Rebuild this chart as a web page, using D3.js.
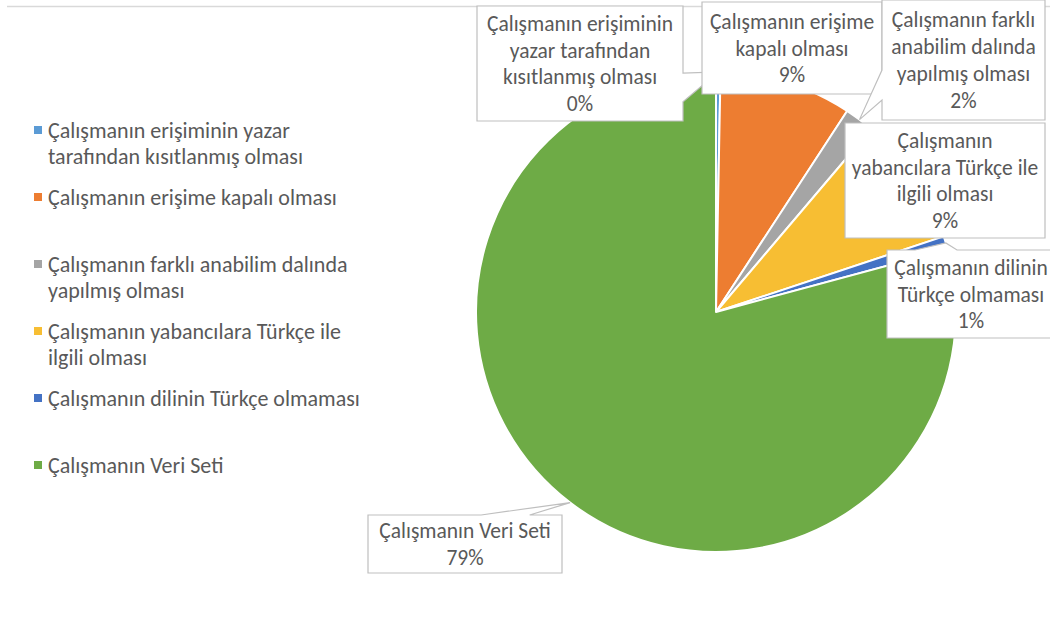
<html>
<head>
<style>
  body { margin: 0; background: #fff; }
  text { font-family: "Carlito", "Calibri", "Lato", sans-serif; fill: #595959; }
</style>
</head>
<body>
<svg width="1050" height="619"></svg>
<script src="https://cdn.jsdelivr.net/npm/d3@7"></script>
<script>

// slice names, in drawing order (clockwise from 12 o'clock)
var categories = [
  "Çalışmanın erişiminin yazar tarafından kısıtlanmış olması",
  "Çalışmanın erişime kapalı olması",
  "Çalışmanın farklı anabilim dalında yapılmış olması",
  "Çalışmanın yabancılara Türkçe ile ilgili olması",
  "Çalışmanın dilinin Türkçe olmaması",
  "Çalışmanın Veri Seti"
];

// share of each slice, percent
var values = [0.3, 8.9, 2.0, 8.7, 0.9, 79.2];

// how the legend wraps each name
var legendLines = [
  ["Çalışmanın erişiminin yazar", "tarafından kısıtlanmış olması"],
  ["Çalışmanın erişime kapalı olması"],
  ["Çalışmanın farklı anabilim dalında", "yapılmış olması"],
  ["Çalışmanın yabancılara Türkçe ile", "ilgili olması"],
  ["Çalışmanın dilinin Türkçe olmaması"],
  ["Çalışmanın Veri Seti"]
];

// how each data label wraps its name
var calloutLines = [
  ["Çalışmanın erişiminin", "yazar tarafından", "kısıtlanmış olması"],
  ["Çalışmanın erişime", "kapalı olması"],
  ["Çalışmanın farklı", "anabilim dalında", "yapılmış olması"],
  ["Çalışmanın", "yabancılara Türkçe ile", "ilgili olması"],
  ["Çalışmanın dilinin", "Türkçe olmaması"],
  ["Çalışmanın Veri Seti"]
];

var colors = ["#5B9BD5", "#ED7D31", "#A5A5A5", "#F7BE33", "#4472C4", "#6EAB46"];

// label boxes, placed by hand like in the original [x, y, w, h]
var boxes = [
  [477, 6, 206, 115],
  [702, 2, 180, 92],
  [882, 0, 163, 120],
  [845, 123, 200, 115],
  [887, 250, 168, 88],
  [368, 515, 194, 58]
];

var svg = d3.select("svg");
var cx = 716, cy = 312, radius = 240;
var fmt = d3.format(".0%");

// chart area top border
svg.append("line")
    .attr("x1", 7).attr("x2", 1050)
    .attr("y1", 6.5).attr("y2", 6.5)
    .attr("stroke", "#d9d9d9")
    .attr("stroke-width", 1.5);

var pie = d3.pie().sort(null).value(function(d) { return d; });
var arcs = pie(values);
var arc = d3.arc().innerRadius(0).outerRadius(radius);

var g = svg.append("g").attr("transform", "translate(" + cx + "," + cy + ")");

g.selectAll("path.slice")
  .data(arcs)
  .enter().append("path")
    .attr("class", "slice")
    .attr("d", arc)
    .attr("fill", function(d, i) { return colors[i]; })
    .attr("stroke", "#fff")
    .attr("stroke-width", 2)
    .attr("stroke-linejoin", "round");

// callout shape: rectangle with a wedge pointing at the slice edge
function callout(b, tip) {
  var x = b[0], y = b[1], w = b[2], h = b[3];
  var inside = tip[0] >= x && tip[0] <= x + w && tip[1] >= y && tip[1] <= y + h;
  if (inside) {
    return "M" + x + "," + y + "H" + (x + w) + "V" + (y + h) + "H" + x + "Z";
  }
  var dx = (tip[0] - (x + w / 2)) / w,
      dy = (tip[1] - (y + h / 2)) / h;
  var p = [];
  if (Math.abs(dx) > Math.abs(dy)) {
    var a = dy > 0 ? [7, 10] : [2, 5];
    var ya = y + h * a[0] / 12, yb = y + h * a[1] / 12;
    if (dx > 0) {
      p = [[x, y], [x + w, y], [x + w, ya], tip, [x + w, yb], [x + w, y + h], [x, y + h]];
    } else {
      p = [[x, y], [x + w, y], [x + w, y + h], [x, y + h], [x, yb], tip, [x, ya]];
    }
  } else {
    var a2 = dx > 0 ? [7, 10] : [2, 5];
    var xa = x + w * a2[0] / 12, xb = x + w * a2[1] / 12;
    if (dy < 0) {
      p = [[x, y], [xa, y], tip, [xb, y], [x + w, y], [x + w, y + h], [x, y + h]];
    } else {
      p = [[x, y], [x + w, y], [x + w, y + h], [xb, y + h], tip, [xa, y + h], [x, y + h]];
    }
  }
  return "M" + p.map(function(q) { return q[0] + "," + q[1]; }).join("L") + "Z";
}

var lineH = 26.7;

arcs.forEach(function(d, i) {
  var mid = (d.startAngle + d.endAngle) / 2;
  var tip = [cx + radius * Math.sin(mid), cy - radius * Math.cos(mid)];
  var b = boxes[i];
  var lab = svg.append("g").attr("class", "callout");
  lab.append("path")
      .attr("d", callout(b, tip))
      .attr("fill", "#fff")
      .attr("stroke", "#bfbfbf")
      .attr("stroke-width", 1.2);
  var lines = calloutLines[i].concat([fmt(values[i] / 100)]);
  var top = b[1] + b[3] / 2 - (lines.length - 1) * lineH / 2;
  lab.selectAll("text")
    .data(lines)
    .enter().append("text")
      .attr("x", b[0] + b[2] / 2)
      .attr("y", function(t, j) { return top + j * lineH; })
      .attr("dy", "0.35em")
      .attr("text-anchor", "middle")
      .style("font-size", "21.5px")
      .text(function(t) { return t; });
});

// legend
var legend = svg.append("g").attr("class", "legend");
legendLines.forEach(function(lines, i) {
  var y0 = 130 + 67 * i;
  legend.append("rect")
      .attr("x", 34).attr("y", y0 - 4)
      .attr("width", 8).attr("height", 8)
      .attr("fill", colors[i]);
  lines.forEach(function(t, j) {
    legend.append("text")
        .attr("x", 48)
        .attr("y", y0 + j * 26.5)
        .attr("dy", "0.35em")
        .style("font-size", "22px")
        .text(t);
  });
});

</script>
</body>
</html>
